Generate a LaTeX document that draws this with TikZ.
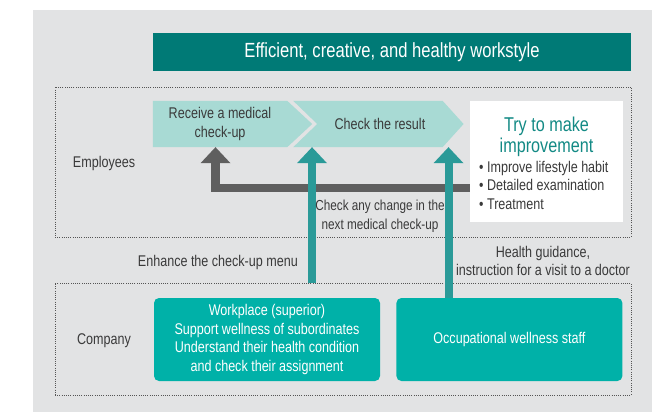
\documentclass[tikz,border=0pt]{standalone}
\usepackage{fontspec}
\setmainfont{Liberation Sans}[FakeStretch=0.81]
\usetikzlibrary{arrows.meta,backgrounds,positioning}
\definecolor{ink}{HTML}{3A3A3A}
\definecolor{panel}{HTML}{E2E3E4}
\definecolor{frame}{HTML}{555555}
\definecolor{deepteal}{HTML}{007A76}
\definecolor{arrowteal}{HTML}{2A9A98}
\definecolor{brightteal}{HTML}{00B1A8}
\definecolor{mint}{HTML}{A8DAD4}
\definecolor{headteal}{HTML}{138A85}
\definecolor{backgray}{HTML}{5F5F5F}
\tikzset{
  body/.style={font=\fontsize{15.5}{18.5}\selectfont,text=ink,align=center,inner sep=0pt},
  framebox/.style={draw=frame,line width=0.8pt,dash pattern=on 1pt off 1.2pt,inner sep=0pt},
  stepbox/.style={body,minimum height=46pt},
  chev/.style={fill=mint},
  compbox/.style={body,text=white,fill=brightteal,rounded corners=5pt,minimum width=226pt,minimum height=83pt},
  fatarrow/.style={-{Triangle[width=30pt,length=16pt,line width=0pt]},line width=8pt,draw=arrowteal},
  backarrow/.style={fatarrow,line width=8.5pt,draw=backgray}
}

\begin{document}
\begin{tikzpicture}[x=1pt,y=-1pt]
  \useasboundingbox (0,0) rectangle (669,412);

  \node[body,font=\fontsize{20.5}{22}\selectfont,text=white,fill=deepteal,minimum width=478pt,minimum height=38pt] (title) at (392,52) {Efficient, creative, and healthy workstyle};

  \node[framebox,minimum width=576pt,minimum height=150pt] (emp) at (343,162) {};
  \node[framebox,minimum width=576pt,minimum height=112pt] (comp) at (343,339) {};
  \node[body] (emplabel) at (104,163) {Employees};
  \node[body] (complabel) at (104,341) {Company};

  % steps of the employee
  \node[stepbox,minimum width=134pt] (receive) at (220,124) {Receive a medical\\check-up};
  \node[stepbox,minimum width=125pt,right=30pt of receive] (check) {Check the result};

  \node[fill=white,minimum width=153pt,minimum height=121pt,inner sep=0pt] (improve) at (546.5,161.5) {};
  \node[body,font=\fontsize{20}{21}\selectfont,text=headteal] (trymake) at (546.5,137) {Try to make\\improvement};
  \node[body,align=left,anchor=west] (actions) at (479,185) {\textbullet\ Improve lifestyle habit\\\textbullet\ Detailed examination\\\textbullet\ Treatment};

  % company side
  \node[compbox] (workplace) at (267,339.5) {Workplace (superior)\\Support wellness of subordinates\\Understand their health condition\\and check their assignment};
  \node[compbox,right=16pt of workplace] (staff) {Occupational wellness staff};

  \begin{scope}[on background layer]
    \fill[panel] (33,10) rectangle (652,412);
    \fill[chev] (receive.north west) -- (receive.north east) -- ([xshift=25pt]receive.east)
      -- (receive.south east) -- (receive.south west) -- cycle;
    \fill[chev] ([xshift=-24pt]check.north west) -- (check.north east) -- ([xshift=21pt]check.east)
      -- (check.south east) -- ([xshift=-24pt]check.south west) -- (check.west) -- cycle;
  \end{scope}

  % arrows
  \coordinate (bk) at (0,188);
  \coordinate (up1) at (312,0);
  \coordinate (up2) at (448.5,0);
  \draw[backarrow] (improve.west |- bk) -| ([xshift=-4.5pt]receive.south);
  \draw[fatarrow] (comp.north -| up1) -- (check.south -| up1);
  \draw[fatarrow] (staff.north -| up2) -- (check.south -| up2);

  \node[body,font=\fontsize{14.5}{18.5}\selectfont] (changelbl) at (380,216) {Check any change in the\\next medical check-up};
  \node[body,anchor=east] (menulbl) at (298,262) {Enhance the check-up menu};
  \node[body] (guidelbl) at (543,261) {Health guidance,\\instruction for a visit to a doctor};
\end{tikzpicture}
\end{document}
